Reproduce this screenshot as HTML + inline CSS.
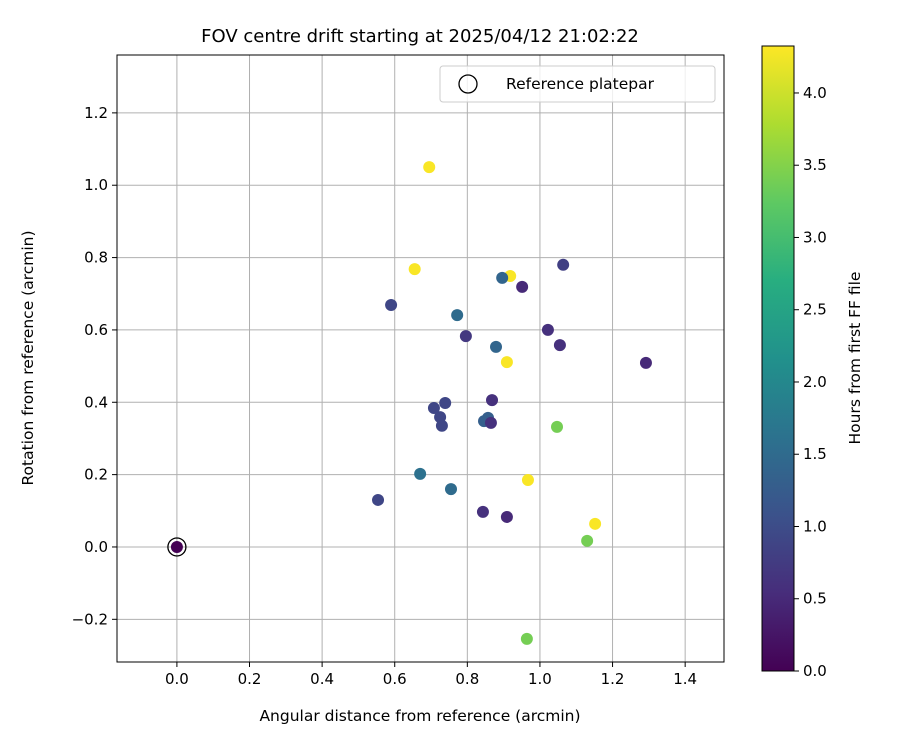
<!DOCTYPE html>
<html><head><meta charset="utf-8"><style>body{margin:0;background:#fff}svg{font-family:"DejaVu Sans","Liberation Sans",sans-serif}</style></head>
<body>
<svg id="c" width="900" height="750" xmlns="http://www.w3.org/2000/svg">
<defs><linearGradient id="vg" x1="0" y1="1" x2="0" y2="0">
<stop offset="0" stop-color="#440154"/><stop offset="0.125" stop-color="#472d7b"/><stop offset="0.25" stop-color="#3b528b"/><stop offset="0.375" stop-color="#2c728e"/><stop offset="0.5" stop-color="#21918c"/><stop offset="0.625" stop-color="#28ae80"/><stop offset="0.75" stop-color="#5ec962"/><stop offset="0.875" stop-color="#addc30"/><stop offset="1" stop-color="#fde725"/></linearGradient></defs>
<g id="plot"></g>
</svg>
<script>
const xs=[0,0.695,0.655,0.918,0.896,0.951,1.064,0.590,0.772,0.796,0.879,1.022,1.055,0.909,1.292,0.708,0.739,0.725,0.730,0.868,0.857,0.846,0.865,1.047,0.670,0.755,0.967,0.554,0.843,0.909,1.152,1.130,0.964];
const ys=[0,1.05,0.768,0.749,0.744,0.719,0.780,0.669,0.641,0.583,0.553,0.600,0.558,0.511,0.509,0.384,0.398,0.359,0.335,0.406,0.357,0.348,0.343,0.332,0.202,0.160,0.185,0.130,0.097,0.083,0.064,0.017,-0.254];
const hours=[0,4.3,4.3,4.3,1.4,0.5,0.8,0.9,1.5,0.7,1.4,0.6,0.6,4.3,0.5,0.9,0.9,0.9,0.9,0.6,1.3,1.3,0.6,3.4,1.6,1.5,4.3,0.9,0.6,0.5,4.3,3.4,3.4];
const xTicks=[0,0.2,0.4,0.6,0.8,1.0,1.2,1.4];
const yTicks=[-0.2,0,0.2,0.4,0.6,0.8,1.0,1.2];
const cTicks=[0,0.5,1,1.5,2,2.5,3,3.5,4];
const L=117,R=724,T=55,B=662,xmin=-0.165,xmax=1.507,ymin=-0.318,ymax=1.360,hmax=4.325;
const X=v=>L+(v-xmin)/(xmax-xmin)*(R-L), Y=v=>B-(v-ymin)/(ymax-ymin)*(B-T);
const CT=46,CB=671,CY=v=>CB-v/hmax*(CB-CT);
const vir=["#440154","#472d7b","#3b528b","#2c728e","#21918c","#28ae80","#5ec962","#addc30","#fde725"];
function col(h){let t=Math.max(0,Math.min(1,h/hmax))*8,i=Math.min(7,Math.floor(t)),f=t-i;const a=vir[i],b=vir[i+1];let o="#";for(let k=1;k<7;k+=2){const c=Math.round(parseInt(a.substr(k,2),16)*(1-f)+parseInt(b.substr(k,2),16)*f);o+=c.toString(16).padStart(2,"0");}return o;}
const g=document.getElementById('plot');const NS="http://www.w3.org/2000/svg";
function el(t,a,txt){const e=document.createElementNS(NS,t);for(const k in a)e.setAttribute(k,a[k]);if(txt!==undefined)e.textContent=txt;g.appendChild(e);return e;}
xTicks.forEach(v=>{const x=X(v);let e=el('line',{x1:x,x2:x,y1:T,y2:B,stroke:'#b0b0b0','stroke-width':1});

e=el('line',{x1:x,x2:x,y1:B,y2:B+5,stroke:'#000'});
e=el('text',{x:x,y:B+22,'text-anchor':'middle','font-size':15},v.toFixed(1));});
yTicks.forEach(v=>{const y=Y(v);let e=el('line',{x1:L,x2:R,y1:y,y2:y,stroke:'#b0b0b0','stroke-width':1});

e=el('line',{x1:L-5,x2:L,y1:y,y2:y,stroke:'#000'});
e=el('text',{x:L-9,y:y+5,'text-anchor':'end','font-size':15},(v<0?'\u2212':'')+Math.abs(v).toFixed(1));});
xs.forEach((v,i)=>{const e=el('circle',{cx:X(v),cy:Y(ys[i]),r:6,fill:col(hours[i])});});
let e=el('circle',{cx:X(0),cy:Y(0),r:9,fill:'none',stroke:'#000','stroke-width':1.3});
e=el('rect',{x:L,y:T,width:R-L,height:B-T,fill:'none',stroke:'#000','stroke-width':1});
e=el('rect',{x:440,y:66,width:275,height:36,rx:3,fill:'#fff','fill-opacity':0.8,stroke:'#ccc'});
e=el('circle',{cx:468,cy:84,r:9,fill:'none',stroke:'#000','stroke-width':1.3});
e=el('text',{x:506,y:89,'font-size':15.5},'Reference platepar');
e=el('text',{x:420,y:42,'text-anchor':'middle','font-size':18},'FOV centre drift starting at 2025/04/12 21:02:22');
e=el('text',{x:420,y:721,'text-anchor':'middle','font-size':15.5},'Angular distance from reference (arcmin)');
e=el('text',{x:33,y:358,'text-anchor':'middle','font-size':15.5,transform:'rotate(-90 33 358)'},'Rotation from reference (arcmin)');
e=el('rect',{x:762,y:CT,width:32,height:CB-CT,fill:'url(#vg)',stroke:'#000'});
cTicks.forEach(v=>{const y=CY(v);let e=el('line',{x1:794,x2:799,y1:y,y2:y,stroke:'#000'});
e=el('text',{x:803,y:y+5,'font-size':15},v.toFixed(1));});
e=el('text',{x:860,y:358,'text-anchor':'middle','font-size':15.5,transform:'rotate(-90 860 358)'},'Hours from first FF file');
</script>
</body></html>
